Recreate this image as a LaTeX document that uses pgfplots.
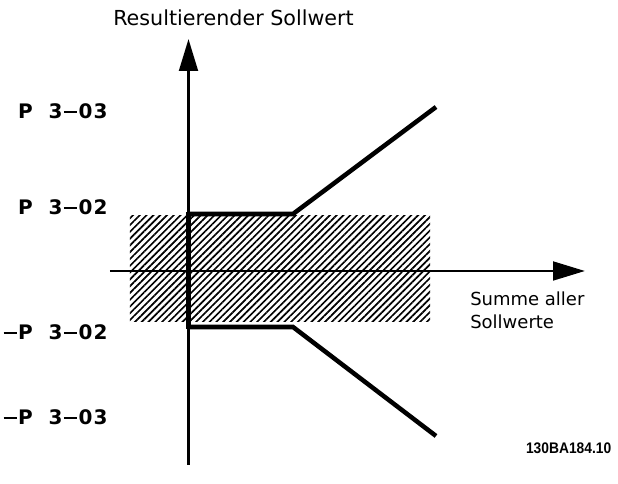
\documentclass[border=0pt]{standalone}
\usepackage{fontspec}
\setmainfont{DejaVu Sans}
\newfontfamily\codefont{Liberation Sans}
\usepackage{pgfplots}
\pgfplotsset{compat=1.18}
\usetikzlibrary{arrows.meta,patterns.meta}
\newcommand\mb[1]{\makebox[11.3pt][c]{#1}}
\newcommand\dash{\mb{\rule[4pt]{10pt}{1.7pt}}}
\newcommand\plab[1]{{\fontsize{15}{17}\selectfont\bfseries #1}}
\begin{document}
\begin{tikzpicture}
\begin{axis}[
  x=0.75pt, y=0.75pt,
  xmin=-78.5, xmax=396.5,
  ymin=-194, ymax=232,
  axis lines=middle,
  axis line style={line width=2.2pt, -{Triangle[length=24pt,width=14pt]}},
  xtick=\empty, ytick=\empty,
  clip=false,
]
% hatched band
\addplot[draw=none, pattern={Lines[angle=45,distance=3.6pt,line width=1.25pt]}]
  coordinates {(-58.5,-51) (241.5,-51) (241.5,55) (-58.5,55)} -- cycle;
% upper limit
\addplot[line width=3.4pt, line join=miter] coordinates {(0,57) (104.5,57) (247.5,164)};
% lower limit
\addplot[line width=3.4pt, line join=miter] coordinates {(0,-56) (104.5,-56) (247.5,-165)};
% jump
\addplot[line width=3.4pt] coordinates {(0,58.7) (0,-57.7)};
% labels
\node[anchor=east, inner sep=0] at (axis cs:-80,160) {\plab{\mb{P}\mb{}\mb{3}\dash\mb{0}\mb{3}}};
\node[anchor=east, inner sep=0] at (axis cs:-80,64) {\plab{\mb{P}\mb{}\mb{3}\dash\mb{0}\mb{2}}};
\node[anchor=east, inner sep=0] at (axis cs:-80,-61) {\plab{\dash\mb{P}\mb{}\mb{3}\dash\mb{0}\mb{2}}};
\node[anchor=east, inner sep=0] at (axis cs:-80,-146) {\plab{\dash\mb{P}\mb{}\mb{3}\dash\mb{0}\mb{3}}};
\node[anchor=west, inner sep=0, font=\fontsize{15.5}{18}\selectfont] at (axis cs:-75.5,253) {Resultierender Sollwert};
\node[anchor=north west, inner sep=0, align=left, font=\fontsize{13.5}{17}\selectfont] at (axis cs:281.5,-21) {Summe aller\\Sollwerte};
\node[anchor=east, inner sep=0, font=\codefont\bfseries\fontsize{11.5}{13}\selectfont] at (axis cs:423,-177) {\scalebox{0.9}[1]{130BA184.10}};
% page frame (invisible)
\path (axis cs:-188.5,-213) rectangle (axis cs:429.5,271);
\end{axis}
\end{tikzpicture}
\end{document}
